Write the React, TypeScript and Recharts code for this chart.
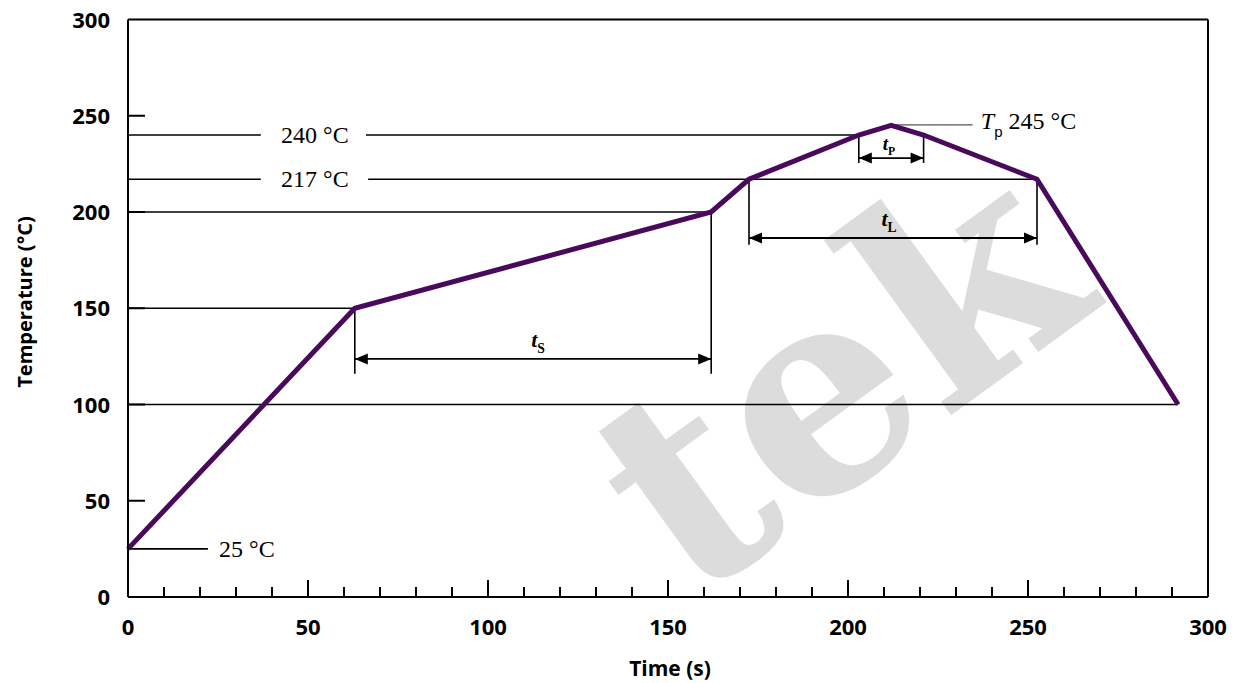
import { LineChart, Line, XAxis, YAxis, ReferenceLine, ReferenceDot, Label } from "recharts";

// reflow profile (time in s, temperature in °C)
const timeS = [0, 63, 162, 172.5, 203, 212, 221, 252.5, 291.7];
const tempC = [25, 150, 200, 217, 240, 245, 240, 217, 100];

const xTicks = [0, 10, 20, 30, 40, 50, 60, 70, 80, 90, 100, 110, 120, 130, 140, 150, 160, 170, 180, 190, 200, 210, 220, 230, 240, 250, 260, 270, 280, 290, 300];
const yTicks = [0, 50, 100, 150, 200, 250, 300];

// guide segments [x1, y1, x2, y2] in data units
const guides = [
  [0, 240, 36.9, 240],
  [66.1, 240, 203, 240],
  [0, 217, 36.9, 217],
  [66.7, 217, 252.5, 217],
  [0, 200, 162, 200],
  [0, 150, 63, 150],
  [0, 100, 291.7, 100],
  [0, 25, 22.2, 25],
  [63, 150, 63, 116],
  [162, 200, 162, 116],
  [172.5, 217, 172.5, 183],
  [252.5, 217, 252.5, 183],
  [203, 240, 203, 225.5],
  [221, 240, 221, 225.5],
];

// double arrows [from, to, level]
const spans = [
  [63, 162, 123.7],
  [172.5, 252.5, 186.5],
  [203, 221, 228],
];

// interval names [x, y, main, sub, size]
const spanNames: [number, number, string, string, number][] = [
  [113.9, 129.9, "t", "S", 22],
  [211.4, 192.7, "t", "L", 22],
  [211.4, 232.2, "t", "P", 19],
];

// temperature callouts [x, y, text, anchor]
const callouts: [number, number, string, string][] = [
  [51.9, 240, "240 °C", "middle"],
  [51.9, 217, "217 °C", "middle"],
  [25.3, 25, "25 °C", "start"],
];

const profile = timeS.map((t, i) => ({ t, temp: tempC[i] }));

const sans = "'Open Sans', sans-serif";
const serif = "'Liberation Serif', 'Times New Roman', serif";

const XTick = ({ x, y, payload }: any) => {
  const v = payload.value;
  const major = v % 50 === 0;
  return (
    <g>
      {v > 0 && v < 300 && <line x1={x} x2={x} y1={y} y2={y - (major ? 17 : 10)} stroke="#000" strokeWidth={2} />}
      {major && (
        <text x={x} y={y + 38} textAnchor="middle" fontFamily={sans} fontWeight={700} fontSize={22} fill="#000">
          {v}
        </text>
      )}
    </g>
  );
};

const YTick = ({ x, y, payload }: any) => {
  const v = payload.value;
  return (
    <g>
      {v > 0 && v < 300 && <line x1={x} x2={x + 17} y1={y} y2={y} stroke="#000" strokeWidth={2} />}
      <text x={x - 18} y={y + 8} textAnchor="end" fontFamily={sans} fontWeight={700} fontSize={22} fill="#000">
        {v}
      </text>
    </g>
  );
};

const head = (dir: number) => (p: any) => (
  <path
    d={`M${p.cx},${p.cy} L${p.cx + dir * 13},${p.cy - 5.5} L${p.cx + dir * 13},${p.cy + 5.5} Z`}
    fill="#000"
  />
);

export default function App() {
  return (
    <div style={{ position: "absolute", left: 0, top: 0, width: 1236, height: 683, background: "#fff", overflow: "hidden" }}>
      {/* watermark behind the chart */}
      <svg width={1236} height={683} style={{ position: "absolute", left: 0, top: 0 }}>
        <text
          transform="translate(690,605) rotate(-36)"
          fontFamily="'DejaVu Serif', serif"
          fontWeight={700}
          fontSize={285}
          fill="#dcdcdc"
        >
          tek
        </text>
      </svg>
      <div style={{ position: "absolute", left: 0, top: 0 }}>
        <LineChart width={1236} height={683} data={profile} margin={{ top: 19.5, right: 28, left: 0, bottom: 0 }}>
          <XAxis
            dataKey="t"
            type="number"
            domain={[0, 300]}
            ticks={xTicks}
            interval={0}
            height={86}
            tickSize={0}
            tickMargin={0}
            tick={<XTick />}
            axisLine={{ stroke: "#000", strokeWidth: 2 }}
          >
            <Label
              content={({ viewBox }: any) => (
                <text
                  x={viewBox.x + viewBox.width / 2 + 2}
                  y={676}
                  textAnchor="middle"
                  fontFamily={sans}
                  fontWeight={700}
                  fontSize={21}
                  fill="#000"
                >
                  Time (s)
                </text>
              )}
            />
          </XAxis>
          <YAxis
            type="number"
            domain={[0, 300]}
            ticks={yTicks}
            interval={0}
            width={128}
            tickSize={0}
            tickMargin={0}
            tick={<YTick />}
            axisLine={{ stroke: "#000", strokeWidth: 2 }}
          >
            <Label
              content={() => (
                <text
                  transform="translate(32,302) rotate(-90)"
                  textAnchor="middle"
                  fontFamily={sans}
                  fontWeight={700}
                  fontSize={20}
                  fill="#000"
                >
                  Temperature (°C)
                </text>
              )}
            />
          </YAxis>

          <ReferenceLine y={300} stroke="#000" strokeWidth={2} ifOverflow="visible" />
          <ReferenceLine x={300} stroke="#000" strokeWidth={2} ifOverflow="visible" />

          {guides.map(([x1, y1, x2, y2], i) => (
            <ReferenceLine
              key={`g${i}`}
              segment={[{ x: x1, y: y1 }, { x: x2, y: y2 }]}
              stroke="#000"
              strokeWidth={1.6}
              ifOverflow="visible"
            />
          ))}
          <ReferenceLine
            segment={[{ x: 212, y: 245.3 }, { x: 234.6, y: 245.3 }]}
            stroke="#555"
            strokeWidth={1.2}
            ifOverflow="visible"
          />

          {spans.map(([a, b, lv], i) => (
            <ReferenceLine
              key={`s${i}`}
              segment={[{ x: a, y: lv }, { x: b, y: lv }]}
              stroke="#000"
              strokeWidth={1.8}
              ifOverflow="visible"
            />
          ))}
          {spans.map(([a, , lv], i) => (
            <ReferenceDot key={`hl${i}`} x={a} y={lv} ifOverflow="visible" shape={head(1)} />
          ))}
          {spans.map(([, b, lv], i) => (
            <ReferenceDot key={`hr${i}`} x={b} y={lv} ifOverflow="visible" shape={head(-1)} />
          ))}

          <Line
            dataKey="temp"
            type="linear"
            stroke="#4a0a5c"
            strokeWidth={5}
            dot={false}
            activeDot={false}
            isAnimationActive={false}
          />

          {spanNames.map(([x, y, m, s, size], i) => (
            <ReferenceDot
              key={`n${i}`}
              x={x}
              y={y}
              ifOverflow="visible"
              shape={(p: any) => (
                <text x={p.cx} y={p.cy} textAnchor="middle" fontFamily={serif} fontWeight={700} fill="#000">
                  <tspan fontStyle="italic" fontSize={size}>{m}</tspan>
                  <tspan fontSize={size * 0.62} dy={size * 0.28}>{s}</tspan>
                </text>
              )}
            />
          ))}

          {callouts.map(([x, y, txt, anchor], i) => (
            <ReferenceDot
              key={`c${i}`}
              x={x}
              y={y}
              ifOverflow="visible"
              shape={(p: any) => (
                <text x={p.cx} y={p.cy + 8} textAnchor={anchor as any} fontFamily={serif} fontSize={24} fill="#000">
                  {txt}
                </text>
              )}
            />
          ))}
          <ReferenceDot
            x={236.9}
            y={245}
            ifOverflow="visible"
            shape={(p: any) => (
              <text x={p.cx} y={p.cy + 4} fontFamily={serif} fontSize={24} fill="#000">
                <tspan fontStyle="italic">T</tspan>
                <tspan fontFamily="'Liberation Sans', Arial, sans-serif" fontSize={15} dy={8}>p</tspan>
                <tspan dy={-8}> 245 °C</tspan>
              </text>
            )}
          />
        </LineChart>
      </div>
    </div>
  );
}
